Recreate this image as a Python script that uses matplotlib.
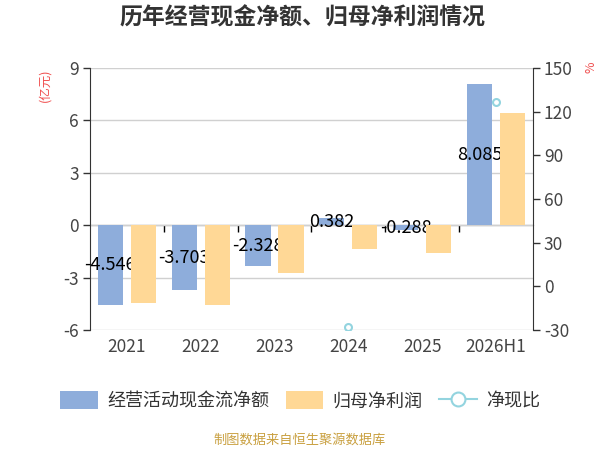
import numpy as np
import matplotlib
matplotlib.use("Agg")
import matplotlib.pyplot as plt
from matplotlib.patches import Patch
from matplotlib.lines import Line2D

plt.rcParams['font.family'] = ['Noto Sans CJK SC', 'DejaVu Sans']
plt.rcParams['axes.unicode_minus'] = False

# 数据
years = ['2021', '2022', '2023', '2024', '2025', '2026H1']
cash_flow = [-4.546, -3.703, -2.328, 0.382, -0.288, 8.085]     # 经营活动现金流净额 (亿元)
net_profit = [-4.47, -4.58, -2.75, -1.37, -1.60, 6.41]          # 归母净利润 (亿元)
cash_ratio = [np.nan, np.nan, np.nan, -28.0, np.nan, 126.6]     # 净现比 (%)

c_blue = '#8EADDB'
c_orange = '#FFD896'
c_ratio = '#93D4DF'
c_axis = '#333333'
c_tick = '#444444'

fig = plt.figure(figsize=(6, 4.5), dpi=100)
ax = fig.add_axes([0.15, 0.2667, 0.738, 0.5823])

x = np.arange(len(years))
w = 0.34
off = 0.224

ax.bar(x - off, cash_flow, width=w, color=c_blue, zorder=2)
for xi, v in zip(x, cash_flow):
    ax.text(xi - off, v / 2, f'{v:.3f}', ha='center', va='center',
            fontsize=13, color='black', zorder=3)
ax.bar(x + off, net_profit, width=w, color=c_orange, zorder=4)

ax.set_xlim(-0.5, len(years) - 0.5)
ax.set_ylim(-6, 9)
ax.set_yticks([-6, -3, 0, 3, 6, 9])
ax.grid(axis='y', color='#D0D0D0', linewidth=1, zorder=0)
ax.set_axisbelow(True)

ax.set_xticks(x)
ax.set_xticklabels(years)
ax.tick_params(axis='x', length=0, labelsize=12.5, labelcolor=c_tick, pad=6)
ax.tick_params(axis='y', length=5, width=1, color=c_axis, labelsize=12.5,
               labelcolor=c_tick, pad=3)
for s in ['top', 'right', 'bottom']:
    ax.spines[s].set_visible(False)
ax.spines['left'].set_color(c_axis)

# 零线及类目分隔刻度
zero = ax.secondary_xaxis(6 / 15)
zero.set_xticks(x[:-1] + 0.5)
zero.set_xticklabels([])
zero.tick_params(axis='x', direction='out', length=5, color='black', width=1)
zero.spines['bottom'].set_color('black')

ax2 = ax.twinx()
ax2.plot(x, cash_ratio, '-', color=c_ratio, marker='o', markersize=5,
         markerfacecolor='white', markeredgecolor=c_ratio, markeredgewidth=1.5,
         zorder=5)
ax2.set_ylim(-30, 150)
ax2.set_yticks([-30, 0, 30, 60, 90, 120, 150])
ax2.tick_params(axis='y', length=5, width=1, color=c_axis, labelsize=12.5,
                labelcolor=c_tick, pad=3)
for s in ['top', 'left', 'bottom']:
    ax2.spines[s].set_visible(False)
ax2.spines['right'].set_color(c_axis)

fig.text(0.505, 0.96, '历年经营现金净额、归母净利润情况', ha='center', va='center',
         fontsize=16.5, fontweight='bold', color='#333333')
fig.text(0.075, 0.81, '(亿元)', rotation=90, ha='center', va='center',
         fontsize=9, color='#F05050')
fig.text(0.985, 0.85, '%', rotation=90, ha='center', va='center',
         fontsize=9, color='#F05050')

handles = [
    Patch(facecolor=c_blue, edgecolor='none', label='经营活动现金流净额'),
    Patch(facecolor=c_orange, edgecolor='none', label='归母净利润'),
    Line2D([], [], color=c_ratio, marker='o', markersize=10, markerfacecolor='white',
           markeredgecolor=c_ratio, markeredgewidth=1.5, label='净现比'),
]
fig.legend(handles=handles, loc='center', bbox_to_anchor=(0.5, 0.11),
           ncol=3, frameon=False, fontsize=13, handlelength=2.1,
           handleheight=1.2, columnspacing=0.9, handletextpad=0.5,
           labelcolor='#333333')

fig.text(0.5, 0.022, '制图数据来自恒生聚源数据库', ha='center', va='center',
         fontsize=9.5, color='#C9A040')

fig.savefig('out.png', dpi=100)
